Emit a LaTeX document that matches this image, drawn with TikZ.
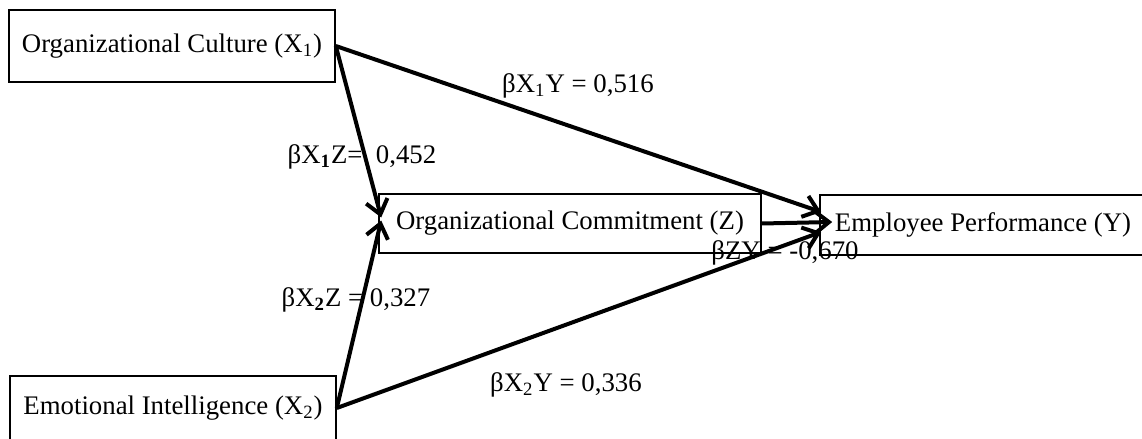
\documentclass[tikz,border=0pt]{standalone}
\usepackage{fontspec}
\setmainfont{Liberation Serif}
\usepackage{tikz}
\usetikzlibrary{arrows.meta, positioning, calc}

\begin{document}
\begin{tikzpicture}[x=0.5pt, y=-0.5pt,
    every node/.style={font=\fontsize{13.4}{16}\selectfont},
    varbox/.style={draw, line width=0.8pt, inner sep=0pt},
    path/.style={line width=2pt, -{Straight Barb[length=7pt, width=11pt, line width=2pt]}}]
  \useasboundingbox (0,0) rectangle (1142,439);

  % Variables
  \node[varbox, minimum width=163pt, minimum height=36pt] (x1) at (172,46) {Organizational Culture (X\textsubscript{1})};
  \node[varbox, minimum width=163pt, minimum height=32pt] (x2) at (173,408) {Emotional Intelligence (X\textsubscript{2})};
  \node[varbox, minimum width=191pt, minimum height=29.5pt] (z) at (570,223.5) {Organizational Commitment (Z)};
  \node[varbox, minimum width=163pt, minimum height=30pt] (y) at (983,225) {Employee Performance (Y)};

  % Jalur
  \draw[path] (x1.east) -- ($(y.west)+(2,-13)$);
  \draw[path] (x1.east) -- ($(z.west)+(3,-6)$);
  \draw[path] (x2.east) -- ($(z.west)+(3,-3)$);
  \draw[path] (x2.east) -- ($(y.west)+(2,7)$);
  \draw[path] (z.east) -- ($(y.west)+(13,-3)$);

  % Koefisien
  \node (bx1y) at (578,86) {βX\textsubscript{1}Y = 0,516};
  \node (bx1z) at (362,157) {βX\textsubscript{\textbf{1}}Z=~~0,452};
  \node (bx2z) at (356,300) {βX\textsubscript{\textbf{2}}Z = 0,327};
  \node (bx2y) at (566,385) {βX\textsubscript{2}Y = 0,336};
  \node (bzy) at (785,253) {βZY = -0,670};
\end{tikzpicture}
\end{document}
